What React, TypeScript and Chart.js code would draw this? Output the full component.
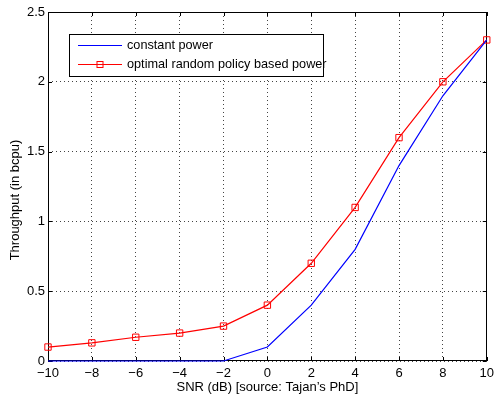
import React, { useEffect, useRef } from "react";
import { Chart, registerables } from "chart.js";

Chart.register(...registerables);

const snr = [-10, -8, -6, -4, -2, 0, 2, 4, 6, 8, 10];
const constantPower = [0, 0, 0, 0, 0, 0.1, 0.4, 0.8, 1.4, 1.9, 2.3];
const optimalPower = [0.1, 0.13, 0.17, 0.2, 0.25, 0.4, 0.7, 1.1, 1.6, 2.0, 2.3];
const xTicks = [-10, -8, -6, -4, -2, 0, 2, 4, 6, 8, 10];
const yTicks = [0, 0.5, 1, 1.5, 2, 2.5];
const seriesLabels = ["constant power", "optimal random policy based power"];
const xTitle = "SNR (dB) [source: Tajan\u2019s PhD]";
const yTitle = "Throughput (in bcpu)";

const FONT = "'Liberation Sans', Arial, Helvetica, sans-serif";

const frame = {
  id: "frame",
  beforeDatasetsDraw(chart: any) {
    const { ctx, chartArea: a, scales } = chart;
    ctx.save();
    ctx.strokeStyle = "#000";
    ctx.lineWidth = 1;
    ctx.setLineDash([]);
    ctx.strokeRect(Math.round(a.left) + 0.5, Math.round(a.top) + 0.5, Math.round(a.right - a.left) - 1, Math.round(a.bottom - a.top) - 1);
    const tl = 4;
    ctx.beginPath();
    xTicks.forEach((v) => {
      const x = Math.round(scales.x.getPixelForValue(v)) + 0.5;
      ctx.moveTo(x, a.bottom);
      ctx.lineTo(x, a.bottom - tl);
      ctx.moveTo(x, a.top);
      ctx.lineTo(x, a.top + tl);
    });
    yTicks.forEach((v) => {
      const y = Math.round(scales.y.getPixelForValue(v)) + 0.5;
      ctx.moveTo(a.left, y);
      ctx.lineTo(a.left + tl, y);
      ctx.moveTo(a.right, y);
      ctx.lineTo(a.right - tl, y);
    });
    ctx.stroke();

    ctx.fillStyle = "#000";
    ctx.font = `13px ${FONT}`;
    ctx.save();
    ctx.translate(15, 200);
    ctx.rotate(-Math.PI / 2);
    ctx.textAlign = "center";
    ctx.textBaseline = "middle";
    ctx.fillText(yTitle, 0, 0);
    ctx.restore();
    ctx.restore();
  },
  afterDraw(chart: any) {
    const { ctx } = chart;
    ctx.save();
    const bx = 69.5, by = 34.5, bw = 254, bh = 42;
    ctx.fillStyle = "#fff";
    ctx.fillRect(bx, by, bw, bh);
    ctx.strokeStyle = "#000";
    ctx.lineWidth = 1;
    ctx.strokeRect(bx, by, bw, bh);
    const rows = [45, 64];
    chart.data.datasets.forEach((ds: any, i: number) => {
      const y = rows[i] + 0.5;
      ctx.strokeStyle = ds.borderColor;
      ctx.lineWidth = 1.2;
      ctx.beginPath();
      ctx.moveTo(78, y);
      ctx.lineTo(122, y);
      ctx.stroke();
      if (ds.pointRadius > 0) {
        ctx.lineWidth = 1;
        ctx.strokeRect(97, y - 3, 6, 6);
      }
      ctx.fillStyle = "#000";
      ctx.font = `12.7px ${FONT}`;
      ctx.textAlign = "left";
      ctx.textBaseline = "middle";
      ctx.fillText(ds.label, 127, rows[i] + 0.5);
    });
    ctx.restore();
  },
};

export default function App() {
  const ref = useRef<HTMLCanvasElement>(null);
  useEffect(() => {
    document.body.style.margin = "0";
    const chart = new Chart(ref.current!, {
      type: "line",
      data: {
        labels: snr,
        datasets: [
          {
            label: seriesLabels[0],
            data: snr.map((x, i) => ({ x, y: constantPower[i] })),
            borderColor: "#0000ff",
            borderWidth: 1.2,
            pointRadius: 0,
            tension: 0,
            clip: 4,
          },
          {
            label: seriesLabels[1],
            data: snr.map((x, i) => ({ x, y: optimalPower[i] })),
            borderColor: "#ff0000",
            borderWidth: 1.2,
            pointStyle: "rect",
            pointRadius: 4.5,
            pointBorderColor: "#ff0000",
            pointBackgroundColor: "rgba(0,0,0,0)",
            pointBorderWidth: 1,
            tension: 0,
            clip: 6,
          },
        ],
      },
      options: {
        animation: false,
        responsive: false,
        maintainAspectRatio: false,
        layout: { padding: { left: 0, right: 8, top: 12, bottom: 0 } },
        plugins: { legend: { display: false }, tooltip: { enabled: false } },
        scales: {
          x: {
            type: "linear",
            min: -10,
            max: 10,
            afterFit: (s: any) => { s.height = 34; },
            afterBuildTicks: (s: any) => { s.ticks = xTicks.map((v) => ({ value: v })); },
            ticks: {
              color: "#000",
              font: { family: FONT, size: 13 },
              padding: 5,
              maxRotation: 0,
              callback: (v: any) => String(v).replace("-", "\u2212"),
            },
            grid: { color: "#444", lineWidth: 1, drawTicks: false },
            border: { display: false, dash: [1, 3] },
            title: {
              display: true,
              text: xTitle,
              color: "#000",
              font: { family: FONT, size: 13 },
              padding: { top: 0, bottom: 0 },
            },
          },
          y: {
            type: "linear",
            min: 0,
            max: 2.5,
            afterFit: (s: any) => { s.width = 48; },
            afterBuildTicks: (s: any) => { s.ticks = yTicks.map((v) => ({ value: v })); },
            ticks: {
              color: "#000",
              font: { family: FONT, size: 13 },
              padding: 3,
              callback: (v: any) => String(v),
            },
            grid: { color: "#444", lineWidth: 1, drawTicks: false },
            border: { display: false, dash: [1, 3] },
          },
        },
      },
      plugins: [frame],
    });
    return () => chart.destroy();
  }, []);
  return (
    <div style={{ position: "fixed", left: 0, top: 0, width: 499, height: 395, background: "#fff" }}>
      <canvas ref={ref} width={499} height={395} style={{ display: "block" }} />
    </div>
  );
}
